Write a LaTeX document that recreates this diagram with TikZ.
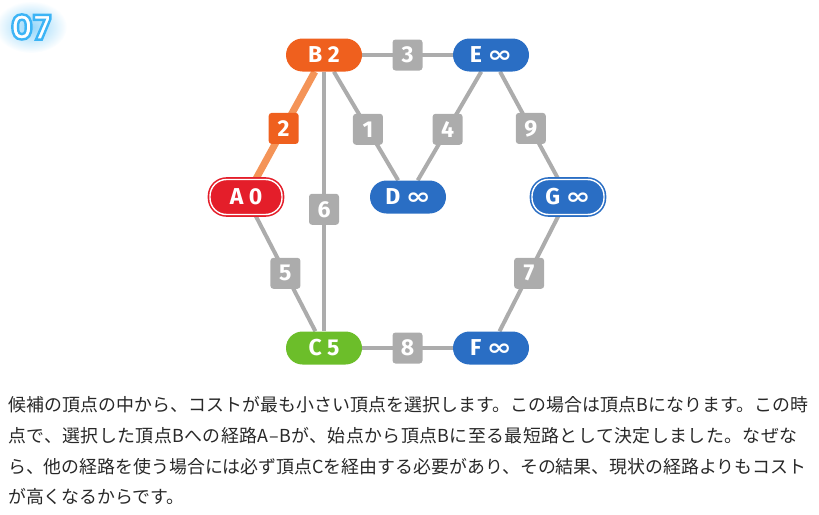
\documentclass[tikz,border=0pt]{standalone}
\usepackage{fontspec}
\setmainfont{Fira Sans}
\newfontfamily\jpfont{Noto Sans CJK JP}
\newfontfamily\symfont{DejaVu Sans}
\newfontfamily\numfont{Poppins}
\usetikzlibrary{positioning, backgrounds, fadings}
\definecolor{vorange}{RGB}{239, 96, 30}
\definecolor{porange}{RGB}{244, 148, 88}
\definecolor{vred}{RGB}{228, 30, 42}
\definecolor{vblue}{RGB}{42, 110, 196}
\definecolor{vgreen}{RGB}{108, 190, 42}
\definecolor{egray}{RGB}{172, 172, 172}
\definecolor{bodytext}{RGB}{40, 40, 40}
\definecolor{glowblue}{RGB}{60, 180, 245}
\tikzfading[name=glowfade, inner color=transparent!45, outer color=transparent!100]
\newcommand{\infsym}{{\symfont\bfseries\scalebox{1.3}[1.0]{∞}}}
% outlined text: white fill, blue stroke
\newcommand{\outlined}[1]{\special{pdf:literal direct 2 Tr 2.4 w 0.235 0.706 0.961 RG}#1\special{pdf:literal direct 0 Tr}}

\begin{document}
\begin{tikzpicture}[x=1pt, y=-1pt,
        vtx/.style={rounded corners=16.5pt, minimum width=76pt, minimum height=33pt,
                    inner sep=0pt, text=white, font=\bfseries\fontsize{23}{23}\selectfont},
        start/.style={draw=#1, fill=#1, double=white, double distance=1.4pt,
                      line width=1.6pt, minimum width=72pt, minimum height=35pt},
        cost/.style={fill=egray, rounded corners=3pt, minimum width=30pt,
                     minimum height=31pt, inner sep=0pt, text=white,
                     font=\bfseries\fontsize{23}{23}\selectfont},
        edge/.style={draw=egray, line width=4pt},
        chosen/.style={draw=porange, line width=7pt},
        line/.style={anchor=west, inner sep=0pt, text=bodytext,
                     font=\jpfont\fontsize{17.9}{17.9}\selectfont}
      ]
        \useasboundingbox (0,0) rectangle (819,514);

        % step number with glow
        \fill[glowblue, path fading=glowfade] (31,27) ellipse (36pt and 26pt);
        \node[text=white, font=\numfont\bfseries\fontsize{34}{34}\selectfont]
              (num) at (31,27) {\outlined{07}};

        % vertices
        \node[vtx, fill=vorange] (B) at (324, 55) {B 2};
        \node[vtx, fill=vblue] (E) at (491, 55) {E \infsym};
        \node[vtx, start=vred] (A) at (246, 197) {A 0};
        \node[vtx, fill=vblue] (D) at (408, 197) {D \infsym};
        \node[vtx, start=vblue] (G) at (568, 197) {G \infsym};
        \node[vtx, fill=vgreen] (C) at (324, 348) {C 5};
        \node[vtx, fill=vblue] (F) at (491, 348) {F \infsym};

        % edges with costs
        \begin{pgfonlayer}{background}
          \draw[chosen] (A) -- node[cost, fill=vorange, pos=0.47] {2} (B);
          \draw[edge] (B) -- node[cost] {3} (E);
          \draw[edge] (B) -- node[cost, pos=0.53] {1} (D);
          \draw[edge] (E) -- node[cost, pos=0.53] {4} (D);
          \draw[edge] (E) -- node[cost, pos=0.53] {9} (G);
          \draw[edge] (B) -- node[cost, pos=0.53] {6} (C);
          \draw[edge] (A) -- node[cost] {5} (C);
          \draw[edge] (G) -- node[cost] {7} (F);
          \draw[edge] (C) -- node[cost] {8} (F);
        \end{pgfonlayer}

        % explanation
        \node[line] (t1) at (8, 405)
              {\addfontfeature{LetterSpace=0.6}候補の頂点の中から、コストが最も小さい頂点を選択します。この場合は頂点Bになります。この時};
        \node[line] (t2) at (8, 436)
              {\addfontfeature{LetterSpace=2.4}点で、選択した頂点Bへの経路A–Bが、始点から頂点Bに至る最短路として決定しました。なぜな};
        \node[line] (t3) at (8, 467)
              {ら、他の経路を使う場合には必ず頂点Cを経由する必要があり、その結果、現状の経路よりもコスト};
        \node[line] (t4) at (8, 497)
              {が高くなるからです。};
      \end{tikzpicture}
\end{document}
